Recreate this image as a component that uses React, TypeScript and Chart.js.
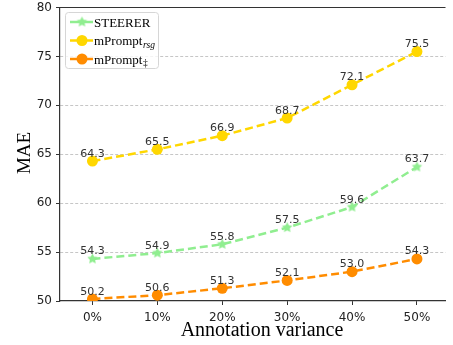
import React, { useEffect, useRef } from "react";
import { Chart, registerables } from "chart.js";

Chart.register(...registerables);

const categories = ["0%", "10%", "20%", "30%", "40%", "50%"];
const steerer = [54.3, 54.9, 55.8, 57.5, 59.6, 63.7];
const mPromptRsg = [64.3, 65.5, 66.9, 68.7, 72.1, 75.5];
const mPromptDdagger = [50.2, 50.6, 51.3, 52.1, 53.0, 54.3];
const yTicks = [50, 55, 60, 65, 70, 75, 80];

const GREEN = "#90EE90";
const GOLD = "#FFD700";
const ORANGE = "#FF8C00";

function makeStar(color: string, outer: number, inner: number): HTMLCanvasElement {
  const size = Math.ceil(outer * 2 + 2);
  const c = document.createElement("canvas");
  c.width = size;
  c.height = size;
  const ctx = c.getContext("2d")!;
  const cx = size / 2;
  const cy = size / 2;
  ctx.beginPath();
  for (let i = 0; i < 10; i++) {
    const r = i % 2 === 0 ? outer : inner;
    const a = -Math.PI / 2 + (i * Math.PI) / 5;
    const x = cx + r * Math.cos(a);
    const y = cy + r * Math.sin(a);
    if (i === 0) ctx.moveTo(x, y);
    else ctx.lineTo(x, y);
  }
  ctx.closePath();
  ctx.fillStyle = color;
  ctx.fill();
  return c;
}

export default function App() {
  const ref = useRef<HTMLCanvasElement | null>(null);

  useEffect(() => {
    document.body.style.margin = "0";
    document.body.style.overflow = "hidden";
    const canvas = ref.current!;
    const star = makeStar(GREEN, 5.5, 2.8);

    const toPts = (arr: number[]) => arr.map((v, i) => ({ x: i, y: v }));

    const extras = {
      id: "extras",
      afterDatasetsDraw(chart: any) {
        const ctx = chart.ctx as CanvasRenderingContext2D;
        const { left, right, top } = chart.chartArea;
        ctx.save();
        // top spine
        ctx.strokeStyle = "#333";
        ctx.lineWidth = 1.2;
        ctx.beginPath();
        ctx.moveTo(left, top);
        ctx.lineTo(right, top);
        ctx.stroke();

        // data labels
        ctx.font = "11px 'DejaVu Sans'";
        ctx.fillStyle = "#333";
        ctx.textAlign = "center";
        ctx.textBaseline = "alphabetic";
        chart.data.datasets.forEach((ds: any, di: number) => {
          const meta = chart.getDatasetMeta(di);
          meta.data.forEach((pt: any, i: number) => {
            const v = ds.data[i].y;
            ctx.fillText(v.toFixed(1), pt.x, pt.y - 4.5);
          });
        });

        // axis titles
        ctx.font = "19px 'Liberation Serif'";
        ctx.fillStyle = "#000";
        ctx.textAlign = "center";
        ctx.textBaseline = "middle";
        ctx.save();
        ctx.translate(25, 153);
        ctx.rotate(-Math.PI / 2);
        ctx.fillText("MAE", 0, 0);
        ctx.restore();
        ctx.font = "20px 'Liberation Serif'";
        ctx.fillText("Annotation variance", 262, 331);

        // legend
        const bx = 65.5, by = 12.5, bw = 93, bh = 56, r = 3;
        ctx.beginPath();
        ctx.moveTo(bx + r, by);
        ctx.lineTo(bx + bw - r, by);
        ctx.arcTo(bx + bw, by, bx + bw, by + r, r);
        ctx.lineTo(bx + bw, by + bh - r);
        ctx.arcTo(bx + bw, by + bh, bx + bw - r, by + bh, r);
        ctx.lineTo(bx + r, by + bh);
        ctx.arcTo(bx, by + bh, bx, by + bh - r, r);
        ctx.lineTo(bx, by + r);
        ctx.arcTo(bx, by, bx + r, by, r);
        ctx.closePath();
        ctx.fillStyle = "rgba(255,255,255,0.8)";
        ctx.fill();
        ctx.strokeStyle = "#d6d6d6";
        ctx.lineWidth = 1;
        ctx.stroke();

        const entries = [
          { color: GREEN, marker: "star", y: 22, label: "STEERER", sub: "", subItalic: false },
          { color: GOLD, marker: "circle", y: 40.5, label: "mPrompt", sub: "rsg", subItalic: true },
          { color: ORANGE, marker: "circle", y: 59, label: "mPrompt", sub: "\u2021", subItalic: false },
        ];
        entries.forEach((e) => {
          ctx.strokeStyle = e.color;
          ctx.lineWidth = 2.5;
          ctx.beginPath();
          ctx.moveTo(70, e.y);
          ctx.lineTo(93, e.y);
          ctx.stroke();
          if (e.marker === "star") {
            ctx.drawImage(star, 82 - star.width / 2, e.y - star.height / 2);
          } else {
            ctx.fillStyle = e.color;
            ctx.beginPath();
            ctx.arc(82, e.y, 5.5, 0, Math.PI * 2);
            ctx.fill();
          }
          ctx.fillStyle = "#000";
          ctx.textAlign = "left";
          ctx.textBaseline = "alphabetic";
          ctx.font = "13px 'Liberation Serif'";
          const base = e.y + 4.6;
          ctx.fillText(e.label, 94, base);
          if (e.sub) {
            const w = ctx.measureText(e.label).width;
            ctx.font = (e.subItalic ? "italic " : "") + "9.5px 'Liberation Serif'";
            ctx.fillText(e.sub, 94 + w + 0.5, base + 2.5);
          }
        });
        ctx.restore();
      },
    };

    const chart = new Chart(canvas, {
      type: "line",
      data: {
        datasets: [
          {
            label: "STEERER",
            data: toPts(steerer),
            borderColor: GREEN,
            backgroundColor: GREEN,
            borderWidth: 2.5,
            borderDash: [8, 4],
            pointStyle: star as any,
            pointRadius: 5,
          },
          {
            label: "mPrompt_rsg",
            data: toPts(mPromptRsg),
            borderColor: GOLD,
            backgroundColor: GOLD,
            borderWidth: 2.5,
            borderDash: [8, 4],
            pointStyle: "circle",
            pointRadius: 5.5,
            pointBorderWidth: 0,
          },
          {
            label: "mPrompt_ddagger",
            data: toPts(mPromptDdagger),
            borderColor: ORANGE,
            backgroundColor: ORANGE,
            borderWidth: 2.5,
            borderDash: [8, 4],
            pointStyle: "circle",
            pointRadius: 5.5,
            pointBorderWidth: 0,
          },
        ],
      },
      options: {
        responsive: false,
        animation: false,
        layout: { padding: { top: 5, left: 0, right: 0, bottom: 0 } },
        plugins: { legend: { display: false }, tooltip: { enabled: false } },
        elements: { line: { tension: 0 } },
        scales: {
          x: {
            type: "linear",
            min: -0.5,
            max: 5.44,
            afterBuildTicks: (scale: any) => {
              scale.ticks = categories.map((_, i) => ({ value: i }));
            },
            afterFit: (scale: any) => {
              scale.height = 44;
              scale.paddingLeft = 0;
              scale.paddingRight = 0;
            },
            ticks: {
              callback: (v: any) => categories[v as number] ?? "",
              font: { family: "'DejaVu Sans'", size: 12 },
              color: "#222",
              padding: 6,
              maxRotation: 0,
              autoSkip: false,
            },
            grid: {
              drawOnChartArea: false,
              drawTicks: true,
              tickLength: 4,
              tickColor: "#333",
              tickWidth: 1,
            },
            border: { display: true, color: "#333", width: 1.2 },
          },
          y: {
            min: 50,
            max: 80,
            afterBuildTicks: (scale: any) => {
              scale.ticks = yTicks.map((v) => ({ value: v }));
            },
            afterFit: (scale: any) => {
              scale.width = 60;
              scale.paddingTop = 0;
              scale.paddingBottom = 0;
            },
            ticks: {
              font: { family: "'DejaVu Sans'", size: 12 },
              color: "#222",
              padding: 4,
            },
            grid: {
              color: (c: any) =>
                c.tick && (c.tick.value === 50 || c.tick.value === 80) ? "rgba(0,0,0,0)" : "#b8b8b8",
              lineWidth: 0.8,
              tickLength: 4,
              tickColor: "#333",
              tickWidth: 1,
            },
            border: { display: true, color: "#333", width: 1.2, dash: [3, 2] } as any,
          },
        },
      },
      plugins: [extras],
    });

    return () => chart.destroy();
  }, []);

  return (
    <div style={{ position: "fixed", left: 0, top: 0, width: 453, height: 345 }}>
      <canvas ref={ref} width={453} height={345} style={{ display: "block" }} />
    </div>
  );
}
